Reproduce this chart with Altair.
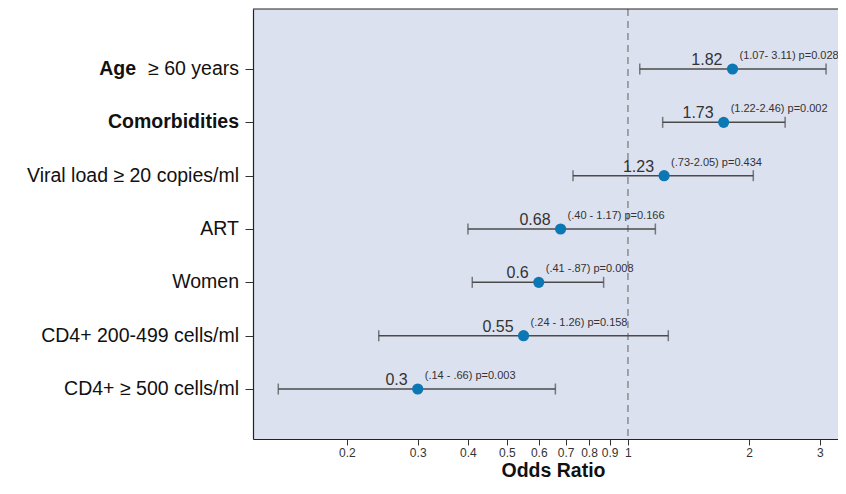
import altair as alt
import pandas as pd

labels_bold = ["Age", "Comorbidities", "", "", "", "", ""]
labels_normal = ["\u2265 60 years", "", "Viral load \u2265 20 copies/ml", "ART", "Women",
                 "CD4+ 200-499 cells/ml", "CD4+ \u2265 500 cells/ml"]
odds = [1.82, 1.73, 1.23, 0.68, 0.6, 0.55, 0.3]
low = [1.07, 1.22, 0.73, 0.40, 0.41, 0.24, 0.135]
high = [3.11, 2.46, 2.05, 1.17, 0.87, 1.26, 0.66]
odds_text = ["1.82", "1.73", "1.23", "0.68", "0.6", "0.55", "0.3"]
ci_text = ["(1.07- 3.11) p=0.028", "(1.22-2.46) p=0.002", "(.73-2.05) p=0.434",
           "(.40 - 1.17) p=0.166", "(.41 -.87) p=0.008", "(.24 - 1.26) p=0.158",
           "(.14 - .66) p=0.003"]
x_ticks = [0.2, 0.3, 0.4, 0.5, 0.6, 0.7, 0.8, 0.9, 1, 2, 3]

n = len(odds)
df = pd.DataFrame({
    "pos": [n - i for i in range(n)],
    "bold": labels_bold,
    "normal": labels_normal,
    "or": odds,
    "low": low,
    "high": high,
    "or_txt": odds_text,
    "ci_txt": ci_text,
})
ref = pd.DataFrame({"ref": [1]})

FONT = "Liberation Sans"
W, H = 585, 430
xs = alt.Scale(type="log", domain=[0.1168, 3.33], nice=False, zero=False)
ys = alt.Scale(domain=[0.063, 8.125], nice=False, zero=False)

xax = alt.Axis(values=x_ticks, format="~g", title="Odds Ratio", grid=False,
               domain=True, domainColor="#222222", domainWidth=1.2,
               tickColor="#333333", tickSize=6, labelFontSize=12, labelColor="#333333",
               labelFont=FONT, labelPadding=2, titleFont=FONT, titleFontSize=19.5,
               titleFontWeight="bold", titleColor="#111111",
               titleX=300, titleY=37, titleBaseline="alphabetic", titleAlign="center",
               labelFlush=False, labelOverlap=False)
yax = alt.Axis(values=list(range(1, n + 1)), labels=False, title=None, grid=False,
               domain=True, domainColor="#222222", domainWidth=1.2,
               tickColor="#333333", tickSize=8)

base = alt.Chart(df)

refline = alt.Chart(ref).mark_rule(color="#8c8c8c", strokeDash=[7, 5], strokeWidth=1.5).encode(
    x=alt.X("ref:Q", scale=xs, axis=xax)
)
top_border = alt.Chart(ref).mark_rule(color="#222222", strokeWidth=1.2).encode(
    x=alt.value(0), x2=alt.value(W), y=alt.value(0)
)

bars = base.mark_rule(color="#4a4a4a", strokeWidth=1.5).encode(
    x=alt.X("low:Q", scale=xs, axis=xax),
    x2="high:Q",
    y=alt.Y("pos:Q", scale=ys, axis=yax),
)
cap_lo = base.mark_tick(color="#4a4a4a", orient="vertical", size=11, thickness=1.5).encode(
    x=alt.X("low:Q", scale=xs), y=alt.Y("pos:Q", scale=ys)
)
cap_hi = base.mark_tick(color="#4a4a4a", orient="vertical", size=11, thickness=1.5).encode(
    x=alt.X("high:Q", scale=xs), y=alt.Y("pos:Q", scale=ys)
)
dots = base.mark_circle(color="#0b78b4", opacity=1, size=125).encode(
    x=alt.X("or:Q", scale=xs), y=alt.Y("pos:Q", scale=ys)
)
or_lbl = base.mark_text(align="right", baseline="middle", dx=-10, dy=-9, fontSize=16,
                        font=FONT, color="#333333").encode(
    x=alt.X("or:Q", scale=xs), y=alt.Y("pos:Q", scale=ys), text="or_txt:N"
)
ci_lbl = base.mark_text(align="left", baseline="middle", dx=7, dy=-13, fontSize=11,
                        font=FONT, color="#333333").encode(
    x=alt.X("or:Q", scale=xs), y=alt.Y("pos:Q", scale=ys), text="ci_txt:N"
)

# row labels on the left
normal_lbl = base.transform_filter("datum.normal != ''").mark_text(
    align="right", baseline="middle", fontSize=19.5, font=FONT, color="#111111"
).encode(x=alt.value(-14), y=alt.Y("pos:Q", scale=ys), text="normal:N")
bold_only = base.transform_filter("datum.bold != '' && datum.normal == ''").mark_text(
    align="right", baseline="middle", fontSize=19.5, font=FONT, fontWeight="bold", color="#111111"
).encode(x=alt.value(-14), y=alt.Y("pos:Q", scale=ys), text="bold:N")
bold_prefix = base.transform_filter("datum.bold != '' && datum.normal != ''").mark_text(
    align="right", baseline="middle", fontSize=19.5, font=FONT, fontWeight="bold", color="#111111"
).encode(x=alt.value(-117), y=alt.Y("pos:Q", scale=ys), text="bold:N")

chart = alt.layer(
    refline, top_border, bars, cap_lo, cap_hi, dots, or_lbl, ci_lbl,
    normal_lbl, bold_only, bold_prefix
).properties(
    width=W, height=H,
    autosize=alt.AutoSizeParams(type="none"),
    padding={"left": 245, "top": 1, "right": 0, "bottom": 43},
    background="white",
).configure_view(
    fill="#dce1f0", strokeWidth=0
)

chart.save("out.html", embed_options={"renderer": "svg", "actions": False})
